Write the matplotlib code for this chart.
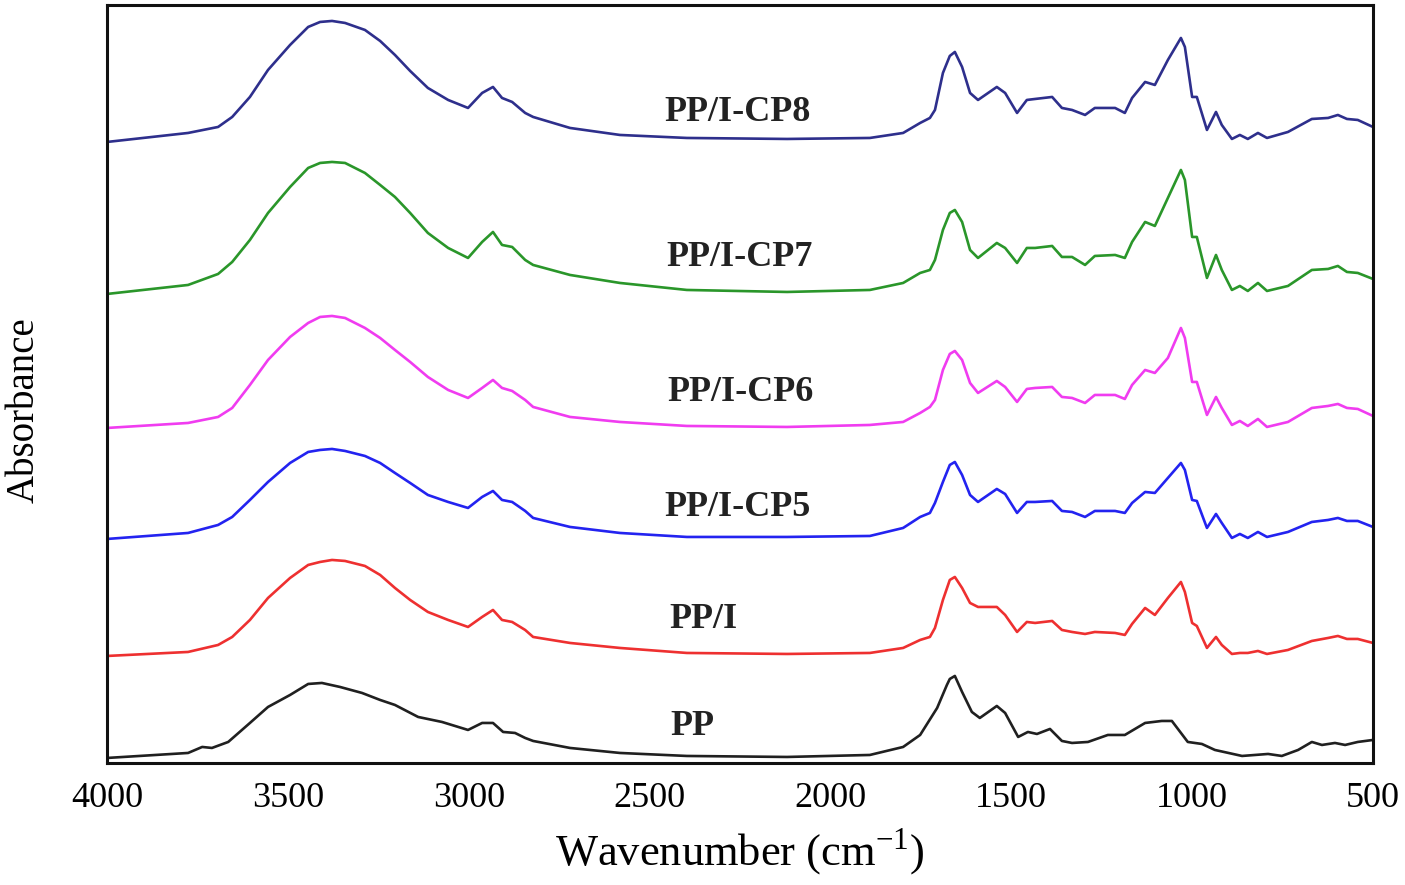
import numpy as np
import matplotlib
matplotlib.use("Agg")
import matplotlib.pyplot as plt

# ==================== DATA ====================

# shared wavenumber grid for the modified samples (cm-1)
wn_mod = [4000, 3776, 3693, 3654, 3605, 3555, 3494, 3444, 3411, 3378, 3342, 3287, 3245,
          3204, 3162, 3113, 3057, 3002, 2963, 2933, 2908, 2880, 2844, 2822, 2720, 2582,
          2397, 2120, 1891, 1799, 1752, 1725, 1711, 1689, 1670, 1656, 1636, 1614, 1592,
          1540, 1517, 1484, 1457, 1434, 1387, 1360, 1332, 1296, 1269, 1213, 1186, 1166,
          1130, 1103, 1067, 1031, 1020, 1000, 987, 959, 934, 918, 890, 868, 846, 818, 793,
          735, 669, 624, 597, 572, 542, 500]

# stacked absorbance (a.u.)
cp8 = [0.621, 0.630, 0.636, 0.646, 0.666, 0.693, 0.718, 0.736, 0.741, 0.742, 0.740, 0.733,
       0.722, 0.708, 0.692, 0.675, 0.663, 0.655, 0.670, 0.676, 0.665, 0.661, 0.650, 0.646,
       0.635, 0.628, 0.625, 0.624, 0.625, 0.630, 0.640, 0.645, 0.653, 0.690, 0.707, 0.711,
       0.696, 0.670, 0.663, 0.676, 0.670, 0.650, 0.663, 0.664, 0.666, 0.655, 0.653, 0.648,
       0.655, 0.655, 0.650, 0.665, 0.681, 0.678, 0.703, 0.725, 0.716, 0.666, 0.666, 0.633,
       0.651, 0.638, 0.624, 0.628, 0.624, 0.630, 0.625, 0.631, 0.644, 0.645, 0.648, 0.644,
       0.643, 0.636]

cp7 = [0.469, 0.478, 0.489, 0.501, 0.523, 0.550, 0.576, 0.595, 0.600, 0.601, 0.600, 0.590,
       0.578, 0.566, 0.550, 0.530, 0.515, 0.505, 0.521, 0.531, 0.518, 0.516, 0.503, 0.498,
       0.488, 0.480, 0.473, 0.471, 0.473, 0.480, 0.490, 0.493, 0.503, 0.533, 0.550, 0.553,
       0.541, 0.513, 0.505, 0.520, 0.515, 0.500, 0.515, 0.515, 0.517, 0.506, 0.506, 0.498,
       0.507, 0.508, 0.505, 0.521, 0.541, 0.537, 0.565, 0.593, 0.583, 0.526, 0.526, 0.485,
       0.508, 0.493, 0.473, 0.477, 0.472, 0.480, 0.472, 0.477, 0.493, 0.494, 0.497, 0.491,
       0.490, 0.484]

cp6 = [0.335, 0.340, 0.346, 0.355, 0.378, 0.403, 0.426, 0.440, 0.446, 0.447, 0.445, 0.435,
       0.425, 0.413, 0.401, 0.386, 0.373, 0.365, 0.375, 0.383, 0.375, 0.372, 0.363, 0.356,
       0.346, 0.341, 0.337, 0.336, 0.338, 0.341, 0.350, 0.356, 0.363, 0.393, 0.409, 0.412,
       0.403, 0.380, 0.370, 0.382, 0.376, 0.361, 0.374, 0.375, 0.376, 0.366, 0.365, 0.360,
       0.368, 0.368, 0.364, 0.378, 0.393, 0.390, 0.405, 0.435, 0.425, 0.381, 0.381, 0.348,
       0.366, 0.355, 0.338, 0.342, 0.337, 0.344, 0.336, 0.341, 0.355, 0.357, 0.359, 0.355,
       0.354, 0.347]

cp5 = [0.224, 0.230, 0.238, 0.246, 0.263, 0.281, 0.300, 0.311, 0.313, 0.314, 0.312, 0.307,
       0.300, 0.290, 0.280, 0.268, 0.261, 0.255, 0.266, 0.272, 0.263, 0.261, 0.252, 0.245,
       0.236, 0.230, 0.226, 0.226, 0.227, 0.235, 0.246, 0.250, 0.260, 0.281, 0.298, 0.301,
       0.288, 0.268, 0.261, 0.274, 0.269, 0.250, 0.261, 0.261, 0.262, 0.252, 0.251, 0.246,
       0.252, 0.252, 0.250, 0.260, 0.271, 0.270, 0.285, 0.300, 0.293, 0.263, 0.262, 0.235,
       0.249, 0.240, 0.225, 0.229, 0.225, 0.231, 0.226, 0.231, 0.241, 0.243, 0.245, 0.242,
       0.242, 0.236]

pp_i = [0.107, 0.111, 0.118, 0.126, 0.143, 0.165, 0.185, 0.198, 0.201, 0.203, 0.202, 0.197,
        0.188, 0.175, 0.163, 0.151, 0.143, 0.136, 0.146, 0.153, 0.143, 0.141, 0.133, 0.126,
        0.120, 0.115, 0.110, 0.109, 0.110, 0.115, 0.123, 0.126, 0.135, 0.163, 0.183, 0.186,
        0.175, 0.160, 0.156, 0.156, 0.148, 0.131, 0.141, 0.140, 0.142, 0.133, 0.131, 0.129,
        0.131, 0.130, 0.128, 0.139, 0.155, 0.148, 0.165, 0.181, 0.171, 0.140, 0.137, 0.115,
        0.126, 0.118, 0.109, 0.110, 0.110, 0.112, 0.109, 0.113, 0.122, 0.125, 0.127, 0.124,
        0.124, 0.120]

# neat PP has its own grid
wn_pp = [4000, 3776, 3737, 3710, 3665, 3605, 3555, 3494, 3444, 3406, 3356, 3295, 3245,
         3204, 3140, 3074, 3002, 2963, 2933, 2905, 2872, 2844, 2822, 2720, 2582, 2397,
         2120, 1891, 1799, 1752, 1705, 1678, 1670, 1656, 1636, 1609, 1587, 1540, 1517,
         1481, 1454, 1429, 1393, 1360, 1332, 1288, 1233, 1186, 1130, 1084, 1056, 1012,
         973, 937, 862, 790, 752, 707, 669, 641, 605, 577, 542, 500]
pp = [0.005, 0.010, 0.016, 0.015, 0.021, 0.040, 0.056, 0.068, 0.079, 0.080, 0.076, 0.070,
      0.063, 0.058, 0.046, 0.041, 0.033, 0.040, 0.040, 0.031, 0.030, 0.025, 0.022, 0.015,
      0.010, 0.007, 0.006, 0.008, 0.016, 0.028, 0.055, 0.078, 0.084, 0.087, 0.071, 0.051,
      0.045, 0.057, 0.050, 0.026, 0.031, 0.029, 0.034, 0.022, 0.020, 0.021, 0.028, 0.028,
      0.040, 0.042, 0.042, 0.021, 0.019, 0.013, 0.007, 0.009, 0.007, 0.013, 0.021, 0.018,
      0.020, 0.018, 0.021, 0.023]

names = ["PP/I-CP8", "PP/I-CP7", "PP/I-CP6", "PP/I-CP5", "PP/I", "PP"]
label_wn = [2256, 2250, 2250, 2256, 2352, 2383]
label_abs = [0.650, 0.505, 0.370, 0.255, 0.143, 0.036]

# ==================== PLOT ====================
plt.rcParams["font.family"] = ["Liberation Serif", "DejaVu Serif"]
plt.rcParams["mathtext.fontset"] = "custom"
plt.rcParams["mathtext.rm"] = "Liberation Serif"

colors = ["#2e2f8c", "#2a962a", "#f03cf0", "#2323f0", "#ee3030", "#202020"]
spectra = [(wn_mod, cp8), (wn_mod, cp7), (wn_mod, cp6), (wn_mod, cp5), (wn_mod, pp_i), (wn_pp, pp)]

fig = plt.figure(figsize=(14.05, 8.85), dpi=100)
ax = fig.add_axes([0.0762, 0.1379, 0.9010, 0.8565])

for (x, y), c in zip(spectra, colors):
    ax.plot(x, y, color=c, lw=1.9, solid_joinstyle="round")

for name, xw, ya in zip(names, label_wn, label_abs):
    ax.text(xw, ya, name, ha="center", va="center", fontsize=26, fontweight="bold", color="#222222")

ax.set_xlim(4000, 500)
ax.set_ylim(0, 0.758)
ax.set_xticks([4000, 3500, 3000, 2500, 2000, 1500, 1000, 500])
ax.set_yticks([])
ax.tick_params(axis="x", length=0, pad=14, labelsize=26)
for s in ax.spines.values():
    s.set_linewidth(2.2)
    s.set_color("#111111")

ax.set_xlabel("Wavenumber (cm$^{-1}$)", fontsize=32, labelpad=8)
ax.set_ylabel("Absorbance", fontsize=28)
ax.yaxis.set_label_coords(-0.051, 0.466)

fig.savefig("out.png", dpi=100)
